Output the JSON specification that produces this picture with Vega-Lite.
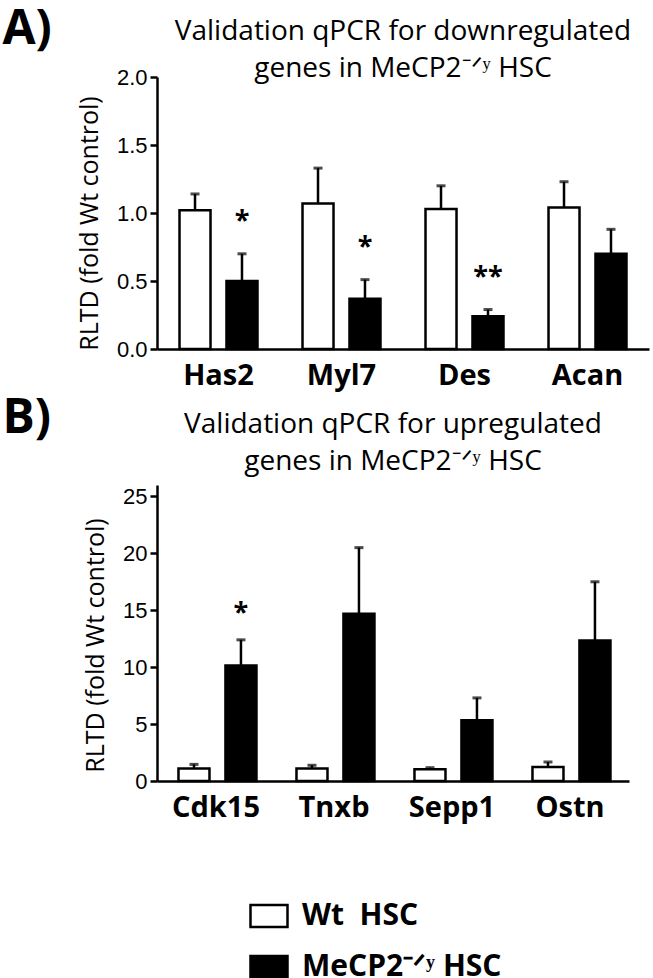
{
  "$schema": "https://vega.github.io/schema/vega-lite/v6.json",
  "background": "white",
  "padding": {"left": 2, "top": 6, "right": 2, "bottom": 2},
  "config": {
    "view": {"stroke": null},
    "axis": {
      "grid": false,
      "domainColor": "black",
      "domainWidth": 2.5,
      "tickColor": "black",
      "tickWidth": 2.5,
      "tickSize": 7,
      "labelColor": "black",
      "titleColor": "black"
    },
    "axisY": {
      "labelFont": "Liberation Sans",
      "labelFontSize": 22,
      "labelPadding": 3,
      "titleFont": "Open Sans",
      "titleFontSize": 25,
      "titleFontWeight": "normal",
      "titlePadding": 14
    },
    "axisX": {
      "labelAngle": 0,
      "ticks": false,
      "labelFont": "Open Sans",
      "labelFontWeight": "bold",
      "labelFontSize": 29,
      "labelPadding": 12,
      "title": null
    },
    "legend": {
      "orient": "none",
      "legendX": 92,
      "legendY": 819,
      "direction": "vertical",
      "padding": 0,
      "labelFont": "Open Sans",
      "labelFontSize": 30,
      "labelFontWeight": "bold",
      "labelColor": "black",
      "labelLimit": 500,
      "symbolType": "M-1,-0.6H1V0.6H-1Z",
      "symbolSize": 1369,
      "symbolStrokeColor": "black",
      "symbolStrokeWidth": 2.5,
      "rowPadding": 14,
      "labelOffset": 13
    },
    "title": {"color": "black"}
  },
  "align": "none",
  "spacing": 5,
  "vconcat": [
    {
      "title": {"text": "A)", "anchor": "start", "font": "Open Sans", "fontSize": 48, "fontWeight": "bold", "dx": -75, "dy": 40},
      "vconcat": [
        {
          "width": 492,
          "height": 272,
          "title": {"text": ["Validation qPCR for downregulated", "genes in MeCP2⁻ᐟʸ HSC"], "font": "Open Sans", "fontSize": 28, "fontWeight": "normal", "lineHeight": 37, "anchor": "middle", "frame": "group", "offset": -17},
          "data": {"values": [
            {"gene": "Has2", "group": "Wt\u00a0 HSC", "value": 1.02, "upper": 1.14, "star": ""},
            {"gene": "Has2", "group": "MeCP2⁻ᐟʸ HSC", "value": 0.50, "upper": 0.70, "star": "*"},
            {"gene": "Myl7", "group": "Wt\u00a0 HSC", "value": 1.07, "upper": 1.33, "star": ""},
            {"gene": "Myl7", "group": "MeCP2⁻ᐟʸ HSC", "value": 0.37, "upper": 0.51, "star": "*"},
            {"gene": "Des", "group": "Wt\u00a0 HSC", "value": 1.03, "upper": 1.20, "star": ""},
            {"gene": "Des", "group": "MeCP2⁻ᐟʸ HSC", "value": 0.24, "upper": 0.29, "star": "**"},
            {"gene": "Acan", "group": "Wt\u00a0 HSC", "value": 1.04, "upper": 1.23, "star": ""},
            {"gene": "Acan", "group": "MeCP2⁻ᐟʸ HSC", "value": 0.70, "upper": 0.88, "star": ""}
          ]},
          "encoding": {
            "x": {"field": "gene", "type": "nominal", "sort": ["Has2", "Myl7", "Des", "Acan"], "scale": {"paddingInner": 0.366, "paddingOuter": 0.183}, "title": null},
            "xOffset": {"field": "group", "type": "nominal", "sort": ["Wt\u00a0 HSC", "MeCP2⁻ᐟʸ HSC"], "scale": {"paddingInner": 0.34, "paddingOuter": 0}}
          },
          "layer": [
            {
              "mark": {"type": "rule", "color": "black", "strokeWidth": 2.5},
              "encoding": {
                "y": {"field": "value", "type": "quantitative", "scale": {"domain": [0, 2]}, "title": "RLTD (fold Wt control)", "axis": {"values": [0, 0.5, 1, 1.5, 2], "format": ".1f", "titleY": 146}},
                "y2": {"field": "upper"}
              }
            },
            {
              "mark": {"type": "tick", "color": "black", "thickness": 3, "size": 9},
              "encoding": {"y": {"field": "upper", "type": "quantitative", "title": "RLTD (fold Wt control)"}}
            },
            {
              "mark": {"type": "bar", "stroke": "black", "strokeWidth": 2.5},
              "encoding": {
                "y": {"field": "value", "type": "quantitative", "title": "RLTD (fold Wt control)"},
                "fill": {"field": "group", "type": "nominal", "scale": {"domain": ["Wt\u00a0 HSC", "MeCP2⁻ᐟʸ HSC"], "range": ["white", "black"]}, "legend": {"title": null}}
              }
            },
            {
              "mark": {"type": "text", "font": "Open Sans", "fontSize": 27, "fontWeight": "bold", "color": "black", "dy": -33},
              "encoding": {
                "y": {"field": "upper", "type": "quantitative", "title": "RLTD (fold Wt control)"},
                "text": {"field": "star"}
              }
            }
          ]
        }
      ]
    },
    {
      "title": {"text": "B)", "anchor": "start", "font": "Open Sans", "fontSize": 48, "fontWeight": "bold", "dx": -81, "dy": 36},
      "vconcat": [
        {
          "width": 472,
          "height": 296,
          "title": {"text": ["Validation qPCR for upregulated", "genes in MeCP2⁻ᐟʸ HSC"], "font": "Open Sans", "fontSize": 28, "fontWeight": "normal", "lineHeight": 37, "anchor": "middle", "frame": "group", "offset": 9},
          "data": {"values": [
            {"gene": "Cdk15", "group": "Wt\u00a0 HSC", "value": 1.09, "upper": 1.46, "star": ""},
            {"gene": "Cdk15", "group": "MeCP2⁻ᐟʸ HSC", "value": 10.15, "upper": 12.4, "star": "*"},
            {"gene": "Tnxb", "group": "Wt\u00a0 HSC", "value": 1.09, "upper": 1.38, "star": ""},
            {"gene": "Tnxb", "group": "MeCP2⁻ᐟʸ HSC", "value": 14.7, "upper": 20.5, "star": ""},
            {"gene": "Sepp1", "group": "Wt\u00a0 HSC", "value": 1.03, "upper": 1.17, "star": ""},
            {"gene": "Sepp1", "group": "MeCP2⁻ᐟʸ HSC", "value": 5.33, "upper": 7.3, "star": ""},
            {"gene": "Ostn", "group": "Wt\u00a0 HSC", "value": 1.23, "upper": 1.67, "star": ""},
            {"gene": "Ostn", "group": "MeCP2⁻ᐟʸ HSC", "value": 12.35, "upper": 17.5, "star": ""}
          ]},
          "encoding": {
            "x": {"field": "gene", "type": "nominal", "sort": ["Cdk15", "Tnxb", "Sepp1", "Ostn"], "scale": {"paddingInner": 0.364, "paddingOuter": 0.182}, "title": null},
            "xOffset": {"field": "group", "type": "nominal", "sort": ["Wt\u00a0 HSC", "MeCP2⁻ᐟʸ HSC"], "scale": {"paddingInner": 0.32, "paddingOuter": 0}}
          },
          "layer": [
            {
              "mark": {"type": "rule", "color": "black", "strokeWidth": 2.5},
              "encoding": {
                "y": {"field": "value", "type": "quantitative", "scale": {"domain": [0, 25]}, "title": "RLTD (fold Wt control)", "axis": {"values": [0, 5, 10, 15, 20, 25], "titleY": 160}},
                "y2": {"field": "upper"}
              }
            },
            {
              "mark": {"type": "tick", "color": "black", "thickness": 3, "size": 9},
              "encoding": {"y": {"field": "upper", "type": "quantitative", "title": "RLTD (fold Wt control)"}}
            },
            {
              "mark": {"type": "bar", "stroke": "black", "strokeWidth": 2.5},
              "encoding": {
                "y": {"field": "value", "type": "quantitative", "title": "RLTD (fold Wt control)"},
                "fill": {"field": "group", "type": "nominal", "scale": {"domain": ["Wt\u00a0 HSC", "MeCP2⁻ᐟʸ HSC"], "range": ["white", "black"]}, "legend": {"title": null}}
              }
            },
            {
              "mark": {"type": "text", "font": "Open Sans", "fontSize": 27, "fontWeight": "bold", "color": "black", "dy": -27},
              "encoding": {
                "y": {"field": "upper", "type": "quantitative", "title": "RLTD (fold Wt control)"},
                "text": {"field": "star"}
              }
            }
          ]
        }
      ]
    }
  ]
}
